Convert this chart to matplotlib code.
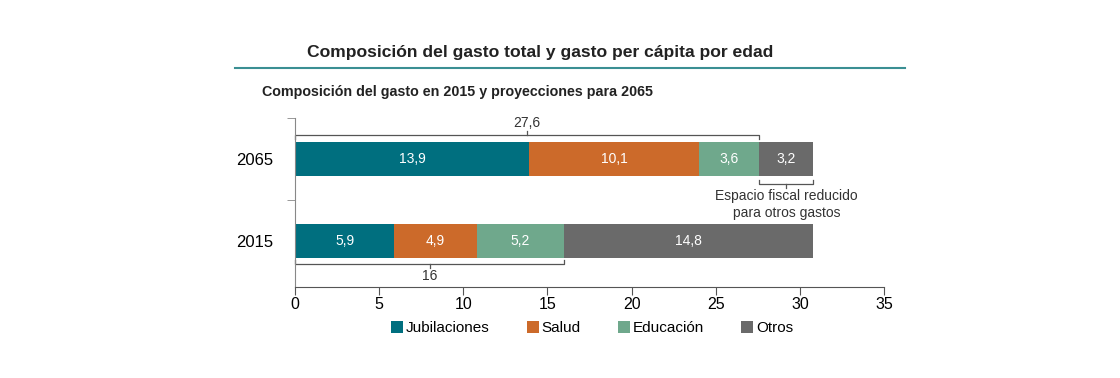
import matplotlib.pyplot as plt
import numpy as np

plt.rcParams['font.family'] = ['Liberation Sans', 'DejaVu Sans']

years = ['2015', '2065']
categories = ['Jubilaciones', 'Salud', 'Educación', 'Otros']
values = {
    'Jubilaciones': [5.9, 13.9],
    'Salud': [4.9, 10.1],
    'Educación': [5.2, 3.6],
    'Otros': [14.8, 3.2],
}
colors = ['#006F7F', '#CC6A2A', '#6FA88C', '#6A6A6A']
total_2065 = 27.6
total_2015 = 16

fig = plt.figure(figsize=(11.2, 3.78), dpi=100)
ax = fig.add_axes([295 / 1120, 1 - 287 / 378, (884 - 295) / 1120, (287 - 118) / 378])

ypos = np.arange(len(years))
left = np.zeros(len(years))
for cat, col in zip(categories, colors):
    v = np.array(values[cat])
    ax.barh(ypos, v, left=left, height=0.41, color=col, label=cat)
    for y, l, w in zip(ypos, left, v):
        ax.text(l + w / 2, y, f'{w:.1f}'.replace('.', ','), ha='center', va='center',
                color='white', fontsize=10)
    left += v

ax.set_xlim(0, 35)
ax.set_ylim(-0.56, 1.5)
ax.set_xticks(range(0, 36, 5))
ax.set_yticks(ypos)
ax.set_yticklabels(years, fontsize=12)
ax.set_yticks([0.5, 1.5], minor=True)
ax.tick_params(axis='y', which='major', length=0, pad=16)
ax.tick_params(axis='y', which='minor', length=6, color='#888888')
ax.tick_params(axis='x', length=6, labelsize=11.5, color='#555555', pad=1)
for s in ['top', 'right']:
    ax.spines[s].set_visible(False)
ax.spines['left'].set_color('#888888')
ax.spines['bottom'].set_color('#555555')

# bracket above 2065
kw = dict(color='#555555', lw=0.9, clip_on=False)
yb = 1.29
ax.plot([0, 0, total_2065, total_2065], [yb - 0.05, yb, yb, yb - 0.05], **kw)
ax.plot([total_2065 / 2] * 2, [yb, yb + 0.05], **kw)
ax.text(total_2065 / 2, yb + 0.06, '27,6', ha='center', va='bottom', fontsize=10, color='#333333')

# bracket below 2015
yb = -0.28
ax.plot([0, 0, total_2015, total_2015], [yb + 0.05, yb, yb, yb + 0.05], **kw)
ax.plot([total_2015 / 2] * 2, [yb, yb - 0.05], **kw)
ax.text(total_2015 / 2, yb - 0.06, '16', ha='center', va='top', fontsize=10, color='#333333')

# bracket under Otros 2065
x0 = total_2065
x1 = x0 + values['Otros'][1]
yb = 0.7
ax.plot([x0, x0, x1, x1], [yb + 0.05, yb, yb, yb + 0.05], **kw)
ax.plot([(x0 + x1) / 2] * 2, [yb, yb - 0.05], **kw)
ax.text((x0 + x1) / 2, yb - 0.07, 'Espacio fiscal reducido\npara otros gastos', ha='center',
        va='top', fontsize=10, color='#333333', linespacing=1.2)

# titles
fig.text(540 / 1120, 1 - 52 / 378, 'Composición del gasto total y gasto per cápita por edad',
         ha='center', va='center', fontsize=12.6, fontweight='bold', color='#222222')
fig.add_artist(plt.Line2D([235 / 1120, 905 / 1120], [1 - 68 / 378] * 2, color='#3A8F93', lw=1.5))
fig.text(262 / 1120, 1 - 92 / 378, 'Composición del gasto en 2015 y proyecciones para 2065',
         ha='left', va='center', fontsize=10.3, fontweight='bold', color='#222222')

fig.legend(loc='center', bbox_to_anchor=(592 / 1120, 1 - 328 / 378), ncol=4, frameon=False,
           fontsize=11, handlelength=0.8, handleheight=0.8, handletextpad=0.2, columnspacing=2.4)

plt.savefig('out.png', dpi=100)
